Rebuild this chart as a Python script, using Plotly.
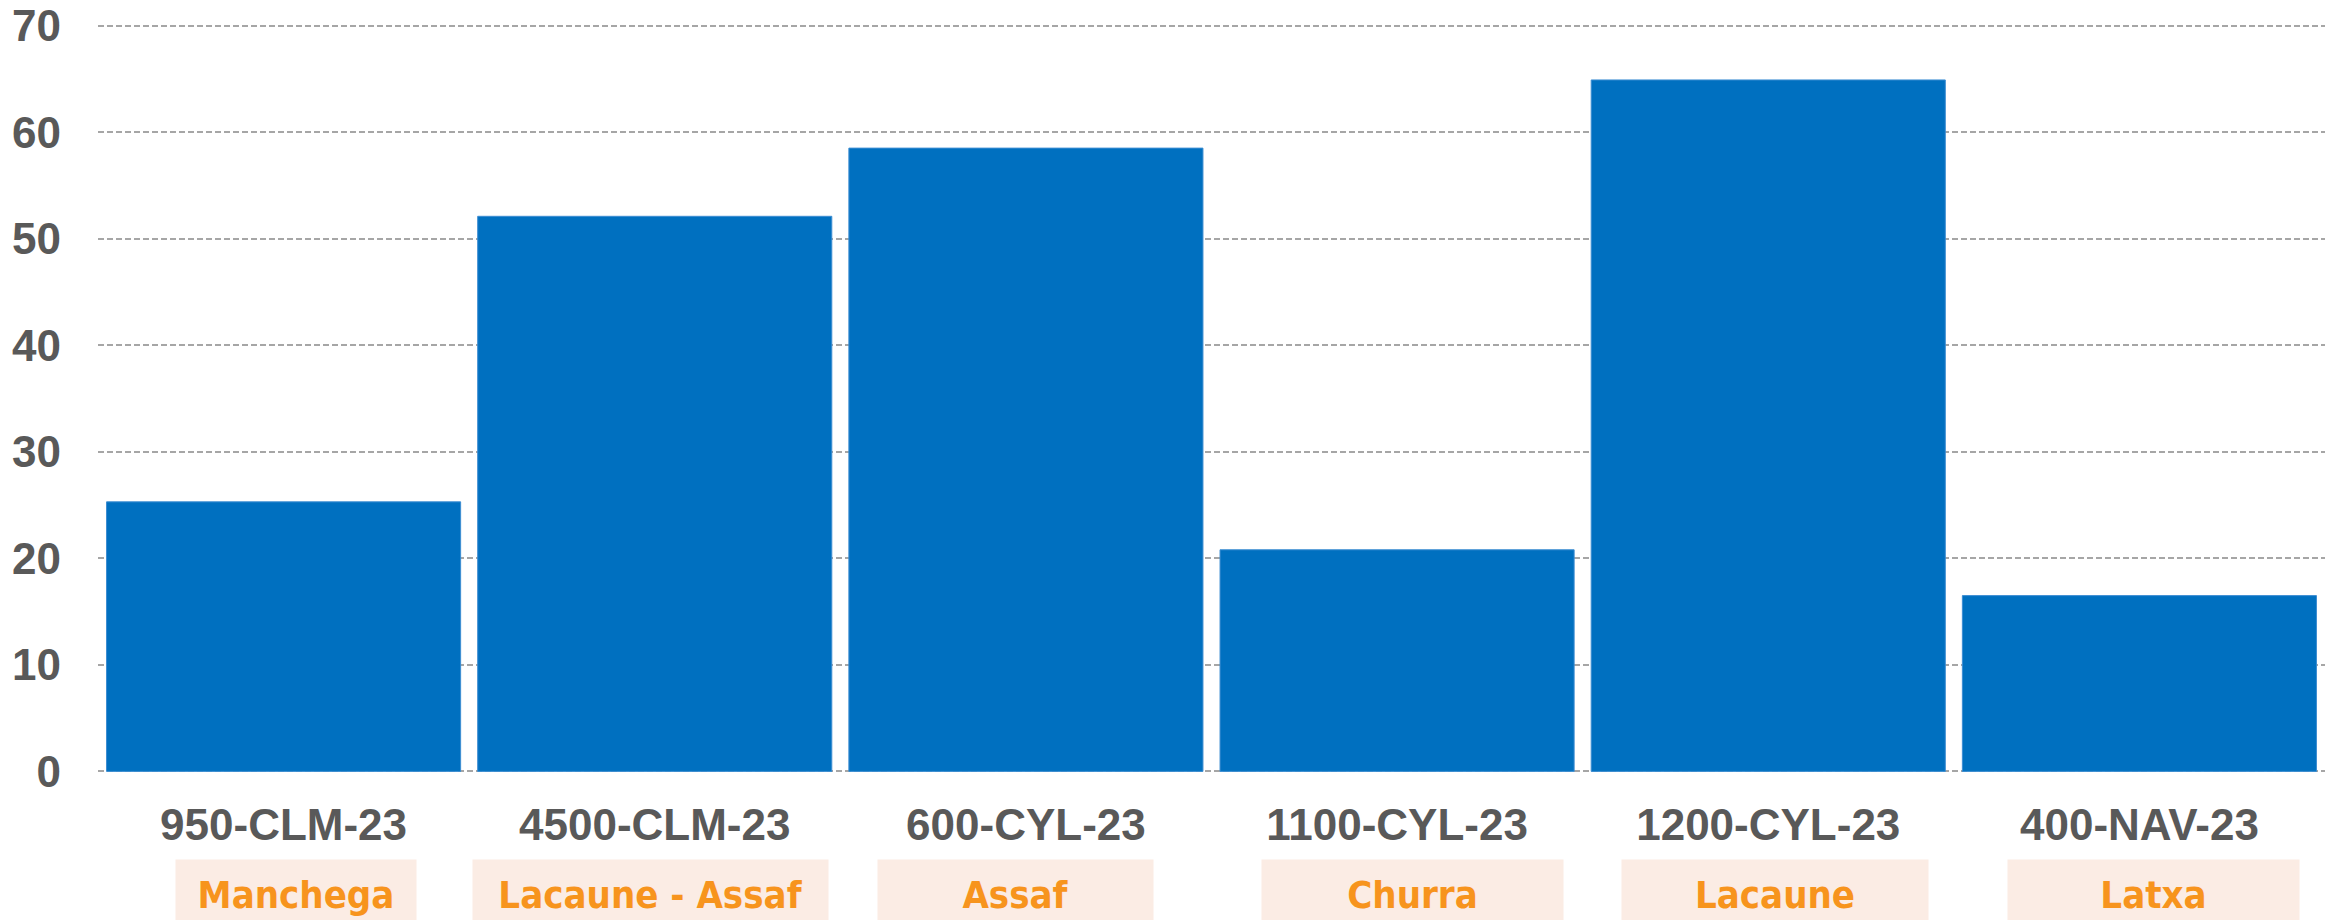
import plotly.graph_objects as go

categories = ["950-CLM-23", "4500-CLM-23", "600-CYL-23", "1100-CYL-23", "1200-CYL-23", "400-NAV-23"]
values = [25.3, 52.1, 58.5, 20.8, 64.9, 16.5]
breeds = ["Manchega", "Lacaune - Assaf", "Assaf", "Churra", "Lacaune", "Latxa"]
y_ticks = [0, 10, 20, 30, 40, 50, 60, 70]

# styling of the breed boxes (pixels)
box_widths = [240, 355, 275, 301, 306, 291]
box_shifts = [12, -4, -10, 15, 7, 14]

W, H = 2336, 920
ML, MR, MT, MB = 98, 11, 24, 147

fig = go.Figure()
fig.add_trace(go.Bar(
    x=categories, y=values,
    marker=dict(color="#0070C0", line=dict(color="#3C8DD2", width=1)),
    hoverinfo="x+y",
))

plot_h = H - MT - MB
box_top = 859
for cat, breed, bw, sh in zip(categories, breeds, box_widths, box_shifts):
    fig.add_annotation(
        x=cat, xref="x", y=-(box_top - (H - MB)) / plot_h, yref="paper",
        yanchor="top", xanchor="center", xshift=sh,
        text=breed, showarrow=False,
        width=bw, height=70, borderpad=0, bgcolor="#FBECE4",
        align="center", valign="middle",
        font=dict(family="DejaVu Sans Condensed, DejaVu Sans", size=38, color="#F7941D", weight="bold"),
    )

tick_font = dict(family="Liberation Sans, Arial, sans-serif", size=44, color="#595959", weight="bold")

fig.update_layout(
    width=W, height=H,
    margin=dict(l=ML, r=MR, t=MT, b=MB),
    plot_bgcolor="white", paper_bgcolor="white",
    bargap=0.046,
    showlegend=False,
    font=dict(family="Liberation Sans, Arial, sans-serif", size=42, color="#595959"),
)
fig.update_yaxes(
    range=[-0.15, 70.15], tickvals=y_ticks,
    showgrid=True, gridcolor="#A6A6A6", gridwidth=2, griddash="6px,3px",
    zeroline=False, showline=False, automargin=False,
    tickfont=tick_font,
    ticklabelstandoff=36,
    ticklabeloverflow="allow",
)
fig.update_xaxes(
    showgrid=False, showline=False, zeroline=False, automargin=False,
    tickfont=tick_font,
    ticklabelstandoff=22,
    ticklabeloverflow="allow",
)

fig.write_html(
    "out.html",
    config={"displayModeBar": False},
    post_script="document.body.style.margin='0';document.body.style.overflow='hidden';",
)
